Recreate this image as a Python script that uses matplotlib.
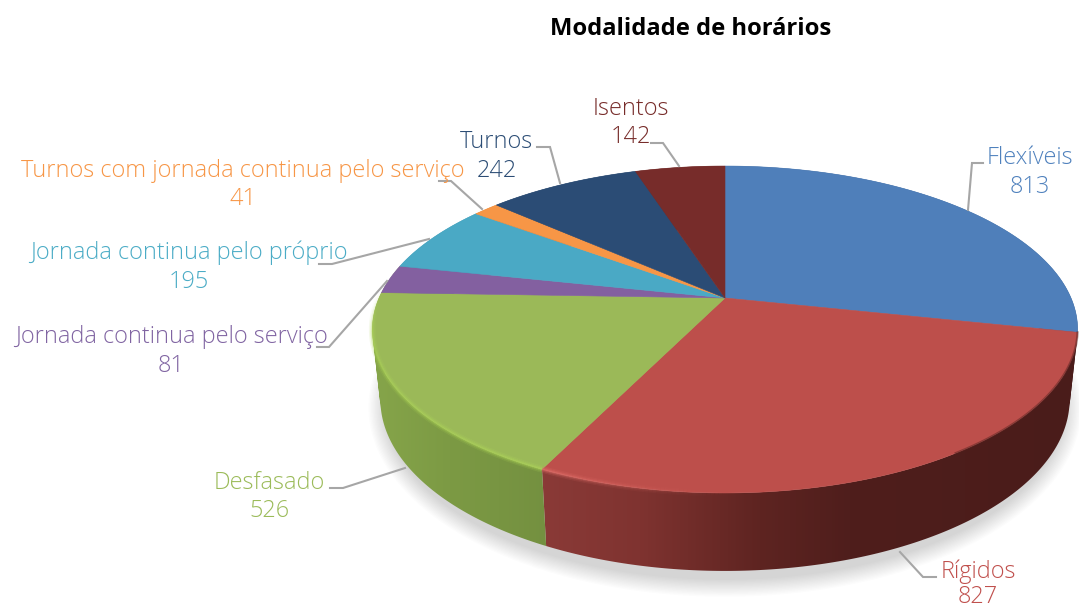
import numpy as np
import matplotlib
matplotlib.use("Agg")
import matplotlib.pyplot as plt
from matplotlib.patches import Polygon, PathPatch
from matplotlib.path import Path
from matplotlib.collections import LineCollection
from matplotlib.colors import to_rgb

# data
categories = ["Flexíveis", "Rígidos", "Desfasado", "Jornada continua pelo serviço",
              "Jornada continua pelo próprio", "Turnos com jornada continua pelo serviço",
              "Turnos", "Isentos"]
values = [813, 827, 526, 81, 195, 41, 242, 142]
title = "Modalidade de horários"

top_colors = ["#4f7fba", "#bd4f4b", "#9bb958", "#8360a0", "#4aa9c5", "#f79646", "#2b4c75", "#772c2a"]
text_colors = ["#4f81bd", "#c0504d", "#9bbb59", "#8064a2", "#4bacc6", "#f79646", "#2c4d75", "#772c2a"]

# side shading: (pixel x, colour) stops per slice
side_stops = [
    [(1000, "#33557f"), (1079, "#24405f")],
    [(545, "#8a3a37"), (640, "#7f3330"), (760, "#5e2421"), (850, "#4f1e1c"), (1079, "#4a1c1a")],
    [(372, "#86a54a"), (450, "#7c9a44"), (548, "#749040")],
    [(370, "#86a54a"), (400, "#86a54a")],
    [(370, "#3a8aa0"), (440, "#3a8aa0")],
    [(470, "#c87a38"), (490, "#c87a38")],
    [(490, "#22405f"), (640, "#22405f")],
    [(640, "#5c2220"), (725, "#5c2220")],
]

# label centres and leader lines in pixels
label_pos = [(1030, 158, 187), (978, 572, 597), (269, 483, 511), (171, 337, 366),
             (189, 253, 282), (243, 171, 199), (497, 142, 171), (631, 109, 137)]
leaders = [
    [(968, 210), (972, 163), (983, 163)],
    [(900, 552), (923, 577), (936, 577)],
    [(405, 468), (343, 488), (330, 488)],
    [(387, 281), (329, 347), (317, 347)],
    [(429, 239), (332, 264), (319, 264)],
    [(482, 209), (451, 181), (439, 181)],
    [(560, 183), (550, 147), (537, 147)],
    [(679, 166), (663, 143), (651, 143)],
]

W, H = 1079, 608
fig = plt.figure(figsize=(W / 100, H / 100), dpi=100)
ax = fig.add_axes([0, 0, 1, 1])
plt.rcParams["font.family"] = "Open Sans"

# pie geometry, a circle seen in perspective
cx, apex_y = 725, 298
persp = 0.1927
k_y = 157.4
s_x = 346


def top_xy(theta):
    u = np.sin(theta)
    v = np.cos(theta)
    d = 1 + persp * v
    return cx + s_x * u / d, apex_y - k_y * v / d


def bottom_xy(theta):
    x, y = top_xy(theta)
    return cx + (x - cx) * 345 / 353, 400 + (y - 330) * 172 / 164


def side_path(theta):
    # thin quads, same winding, so the swept wall stays filled where the rims cross
    xt, yt = top_xy(theta)
    xb, yb = bottom_xy(theta)
    quads = []
    for j in range(len(theta) - 1):
        q = np.array([[xt[j], yt[j]], [xt[j + 1], yt[j + 1]], [xb[j + 1], yb[j + 1]], [xb[j], yb[j]]])
        area = np.sum(q[:, 0] * np.roll(q[:, 1], -1) - np.roll(q[:, 0], -1) * q[:, 1])
        if area < 0:
            q = q[::-1]
        quads.append(Path(np.r_[q, q[:1]], closed=True))
    return Path.make_compound_path(*quads)


angles = np.cumsum([0] + values) / sum(values) * 2 * np.pi

# soft shadow under the pie
tt = np.linspace(0, 2 * np.pi, 300)
for m in np.linspace(18, 1, 14):
    bx, by = bottom_xy(tt)
    sx = cx + (bx - cx) * (1 + (m - 6) / 345)
    sy = 408 + (by - 400) * (1 + m / 172)
    ax.add_patch(Polygon(np.c_[sx, sy], fc="#20202a", ec="none", alpha=0.011, zorder=1))

# sides
for i in range(len(values)):
    t = np.linspace(angles[i], angles[i + 1], 160)
    patch = PathPatch(side_path(t), fc="none", ec="none")
    ax.add_patch(patch)
    xs = np.arange(0, W)
    stops = side_stops[i]
    sx = [p[0] for p in stops]
    rgb = np.array([to_rgb(p[1]) for p in stops])
    img = np.stack([np.interp(xs, sx, rgb[:, c]) for c in range(3)], axis=-1)[None, :, :]
    im = ax.imshow(img, extent=(0, W, H, 0), aspect="auto", zorder=2, interpolation="bilinear")
    im.set_clip_path(patch)

# top face
for i in range(len(values)):
    t = np.linspace(angles[i], angles[i + 1], 120)
    xt, yt = top_xy(t)
    pts = np.r_[[[cx, apex_y]], np.c_[xt, yt]]
    ax.add_patch(Polygon(pts, fc=top_colors[i], ec=top_colors[i], lw=0.4, zorder=3))

# light bevel on the front rim of the left slices, layered so it looks soft
for i, col, fade in [(1, "#e8746e", (0.0, 0.9)), (2, "#b0d858", (0.9, 0.8))]:
    t = np.linspace(angles[i], angles[i + 1], 200)
    if i == 1:
        t = t[t > angles[2] - np.radians(30)]
    xt, yt = top_xy(t)
    segs = np.stack([np.c_[xt[:-1], yt[:-1]], np.c_[xt[1:], yt[1:]]], axis=1)
    a = np.linspace(fade[0], fade[1], len(segs)) ** 1.5
    if i == 2:
        a = a * np.clip((angles[3] - t[:-1]) / np.radians(14), 0, 1)
    for lw, al in [(5.0, 0.18), (3.0, 0.3), (1.5, 0.4)]:
        rgba = np.c_[np.tile(to_rgb(col), (len(segs), 1)), a * al]
        ax.add_collection(LineCollection(segs, colors=rgba, linewidths=lw, zorder=4, capstyle="butt"))

# dark soft edge where the red top meets its dark side
t = np.linspace(angles[1], angles[2] - np.radians(60), 200)
xt, yt = top_xy(t)
ax.plot(xt, yt, color="#5a2320", lw=1.6, alpha=0.5, zorder=4)

# labels
for i, name in enumerate(categories):
    x, y1, y2 = label_pos[i]
    ax.text(x, y1, name, color=text_colors[i], fontsize=16.9, fontweight=300, ha="center", va="center", zorder=6)
    ax.text(x, y2, str(values[i]), color=text_colors[i], fontsize=16.9, fontweight=300, ha="center", va="center", zorder=6)
    lx, ly = zip(*leaders[i])
    ax.plot(lx, ly, color="#a6a6a6", lw=1.5, zorder=5, solid_joinstyle="miter")

ax.text(691, 29, title, fontsize=17.1, fontweight="bold", color="black", ha="center", va="center")

ax.set_xlim(0, W)
ax.set_ylim(H, 0)
ax.axis("off")
fig.savefig("out.png", dpi=100)
